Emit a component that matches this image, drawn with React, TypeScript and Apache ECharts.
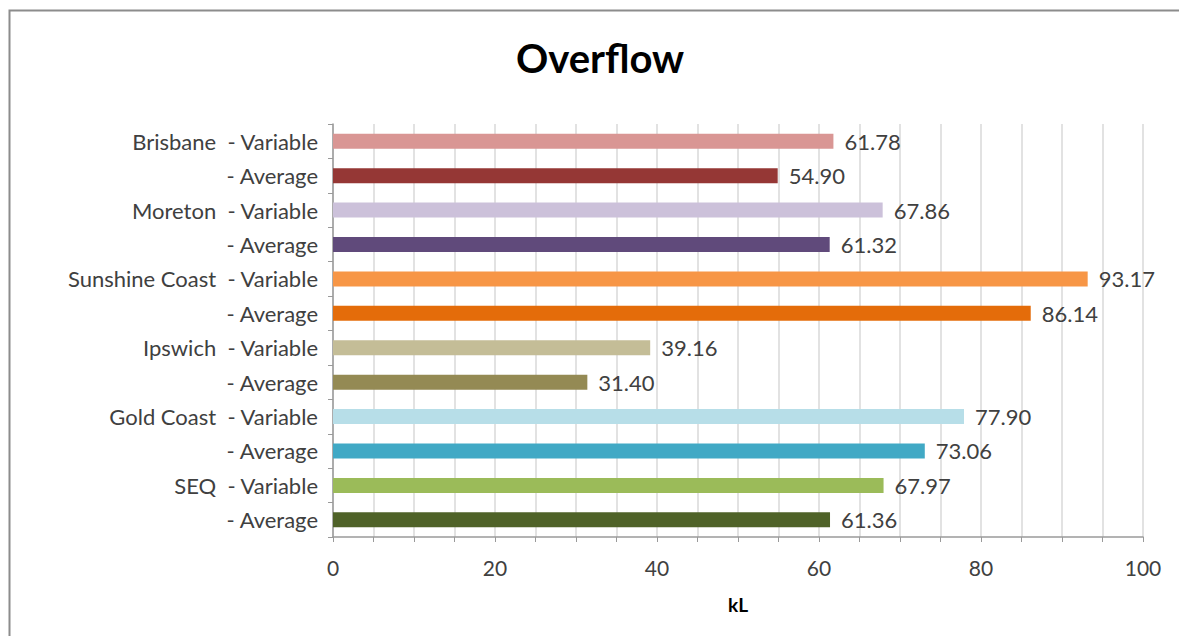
import React, { useEffect, useRef } from "react";
import * as echarts from "echarts";

const categories = [
  "Brisbane  - Variable",
  "- Average",
  "Moreton  - Variable",
  "- Average",
  "Sunshine Coast  - Variable",
  "- Average",
  "Ipswich  - Variable",
  "- Average",
  "Gold Coast  - Variable",
  "- Average",
  "SEQ  - Variable",
  "- Average",
];
const values = [61.78, 54.9, 67.86, 61.32, 93.17, 86.14, 39.16, 31.4, 77.9, 73.06, 67.97, 61.36];
const barColors = [
  "#D99694", "#953735",
  "#CCC1DA", "#604A7B",
  "#F79646", "#E46C0A",
  "#C4BD97", "#948A54",
  "#B7DEE8", "#41A9C5",
  "#9BBB59", "#4F6228",
];
const xTicks = [0, 20, 40, 60, 80, 100];

const FONT = "Lato";

export default function App() {
  const ref = useRef<HTMLDivElement>(null);
  useEffect(() => {
    const chart = echarts.init(ref.current!, null, { renderer: "svg" });
    chart.setOption({
      animation: false,
      backgroundColor: "#ffffff",
      graphic: [
        {
          type: "rect",
          shape: { x: 9.5, y: 10.5, width: 1300, height: 800 },
          style: { fill: "none", stroke: "#8c8c8c", lineWidth: 2 },
          silent: true,
        },
      ],
      title: {
        text: "Overflow",
        left: 595,
        top: 33,
        textAlign: "center",
        textStyle: { fontFamily: FONT, fontWeight: "bold", fontSize: 40, color: "#000" },
      },
      grid: { left: 333, top: 124, right: 36, bottom: 99, containLabel: false },
      xAxis: {
        type: "value",
        min: xTicks[0],
        max: xTicks[xTicks.length - 1],
        interval: 20,
        name: "kL",
        nameLocation: "middle",
        nameGap: 58,
        nameTextStyle: { fontFamily: FONT, fontWeight: "bold", fontSize: 19, color: "#000" },
        axisLine: { show: true, lineStyle: { color: "#9a9a9a", width: 1.5 } },
        axisTick: { show: true, length: 5, lineStyle: { color: "#9a9a9a" } },
        minorTick: { show: true, splitNumber: 4, length: 5, lineStyle: { color: "#9a9a9a" } },
        splitLine: { show: true, lineStyle: { color: "#d9d9d9", width: 1.5 } },
        minorSplitLine: { show: true, lineStyle: { color: "#d9d9d9", width: 1.5 } },
        axisLabel: { fontFamily: FONT, fontSize: 21, color: "#404040", margin: 20 },
      },
      yAxis: {
        type: "category",
        data: categories,
        inverse: true,
        axisLine: { show: true, lineStyle: { color: "#9a9a9a", width: 1.5 } },
        axisTick: { show: true, length: 5, inside: false, lineStyle: { color: "#9a9a9a" } },
        splitLine: { show: false },
        axisLabel: { fontFamily: FONT, fontSize: 22, color: "#404040", margin: 15 },
      },
      series: [
        {
          type: "bar",
          data: values.map((v, i) => ({ value: v, itemStyle: { color: barColors[i] } })),
          barWidth: 15,
          label: {
            show: true,
            position: "right",
            distance: 11,
            formatter: (p: any) => p.value.toFixed(2),
            fontFamily: FONT,
            fontSize: 22,
            color: "#404040",
          },
        },
      ],
    });
    return () => chart.dispose();
  }, []);
  return <div ref={ref} style={{ width: 1179, height: 636, position: "absolute", left: 0, top: 0 }} />;
}
